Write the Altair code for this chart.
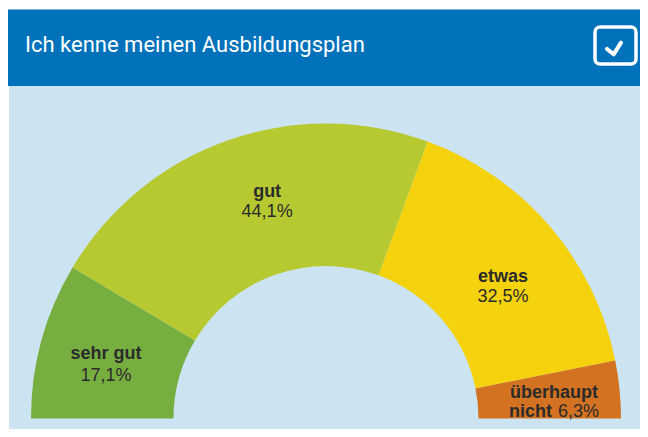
import math
import altair as alt
import pandas as pd

# ---- data ----
categories = ["sehr gut", "gut", "etwas", "überhaupt nicht"]
values = [17.1, 44.1, 32.5, 6.3]
pct_labels = ["17,1%", "44,1%", "32,5%", "6,3%"]
name_line1 = ["sehr gut", "gut", "etwas", "überhaupt"]
name_line2 = ["", "", "", "nicht"]
colors = ["#77AE40", "#B6C931", "#F4D20E", "#D37220"]
title_text = "Ich kenne meinen Ausbildungsplan"

df = pd.DataFrame({
    "cat": categories,
    "value": values,
    "pct": pct_labels,
    "n1": name_line1,
    "n2": name_line2,
})
df["end"] = df["value"].cumsum()
df["start"] = df["end"] - df["value"]
df["mid"] = df["start"] + df["value"] / 2

W, H = 632, 421
CX, CY = 318, 410.5
R_OUT, R_IN, R_LAB = 295, 152.5, 224
FONT = "Liberation Sans"
TXT = "#2B2B2B"
HEADER = "#0072BB"
BG = "#CCE4F2"

theta_scale = alt.Scale(domain=[0, 100], range=[-math.pi / 2, math.pi / 2])
color_scale = alt.Scale(domain=categories, range=colors)

one = alt.Data(values=[{}])

header = alt.Chart(one).mark_rect(color=HEADER).encode(
    x=alt.value(0), x2=alt.value(W), y=alt.value(1.5), y2=alt.value(78)
)
panel = alt.Chart(one).mark_rect(color=BG).encode(
    x=alt.value(1), x2=alt.value(W), y=alt.value(78), y2=alt.value(H)
)
title = alt.Chart(one).mark_text(
    font="Roboto", fontSize=22, color="white",
    align="left", baseline="alphabetic"
).encode(x=alt.value(17), y=alt.value(44), text=alt.value(title_text))

box = alt.Chart(one).mark_rect(
    fill=None, stroke="white", strokeWidth=3.5, cornerRadius=5
).encode(x=alt.value(587), x2=alt.value(628), y=alt.value(19), y2=alt.value(56))

check = alt.Chart(one).mark_point(
    shape="M-1,0.07 L-0.05,0.83 L1,-0.83", filled=False, stroke="white",
    strokeWidth=4, strokeCap="round", strokeJoin="round", opacity=1, size=196
).encode(x=alt.value(606), y=alt.value(40.5))

base = alt.Chart(df)

arcs = base.mark_arc(radius=R_OUT, radius2=R_IN).encode(
    theta=alt.Theta("start:Q", scale=theta_scale, stack=None),
    theta2="end:Q",
    color=alt.Color("cat:N", scale=color_scale, legend=None),
    x=alt.value(CX), y=alt.value(CY),
)


def lab(cat, field, dx, dy, bold, align="center"):
    return base.transform_filter(alt.datum.cat == cat).mark_text(
        radius=R_LAB, dx=dx, dy=dy, font=FONT, fontSize=18,
        fontWeight="bold" if bold else "normal", color=TXT,
        align=align, baseline="alphabetic",
    ).encode(
        theta=alt.Theta("mid:Q", scale=theta_scale, stack=None),
        x=alt.value(CX), y=alt.value(CY),
        text=alt.Text(f"{field}:N"),
    )


labels = [
    lab("sehr gut", "n1", -4, 0, True),
    lab("sehr gut", "pct", -4, 22, False),
    lab("gut", "n1", 16, -10.7, True),
    lab("gut", "pct", 16, 9.3, False),
    lab("etwas", "n1", 7, 9, True),
    lab("etwas", "pct", 7, 29, False),
    lab("überhaupt nicht", "n1", 5, 1.3, True),
    lab("überhaupt nicht", "n2", -40, 20.3, True, "left"),
    lab("überhaupt nicht", "pct", 9, 20.3, False, "left"),
]

chart = alt.layer(header, panel, title, box, check, arcs, *labels).properties(
    width=W, height=H, autosize=alt.AutoSizeParams(type="none"), padding=0,
    background="white"
).configure_view(stroke=None)

chart.save("out.html", embed_options={"renderer": "svg", "actions": False})
